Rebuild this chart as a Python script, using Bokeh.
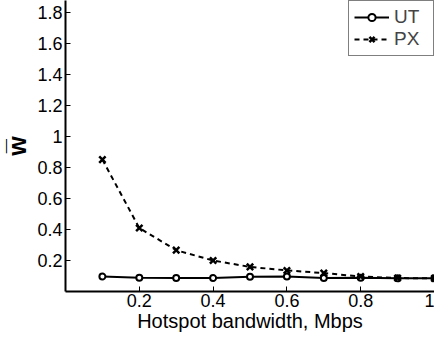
from bokeh.plotting import figure
from bokeh.models import Range1d, FixedTicker, NumeralTickFormatter, Legend, LegendItem
from bokeh.embed import file_html
from bokeh.resources import INLINE

bandwidth = [0.1, 0.2, 0.3, 0.4, 0.5, 0.6, 0.7, 0.8, 0.9, 1.0]
ut = [0.097, 0.089, 0.087, 0.087, 0.095, 0.097, 0.087, 0.089, 0.085, 0.085]
px = [0.852, 0.41, 0.267, 0.20, 0.159, 0.136, 0.119, 0.097, 0.087, 0.085]
x_ticks = [0.2, 0.4, 0.6, 0.8, 1.0]
y_ticks = [0.2, 0.4, 0.6, 0.8, 1.0, 1.2, 1.4, 1.6, 1.8]

FONT = "Liberation Sans"

p = figure(width=434, height=335, output_backend="svg", toolbar_location=None,
           x_range=Range1d(0, 1.0), y_range=Range1d(0, 1.88),
           min_border_left=65, min_border_right=0, min_border_top=0, min_border_bottom=44)
p.outline_line_color = None
p.grid.visible = False
p.background_fill_color = "white"
p.border_fill_color = "white"

l1 = p.line(bandwidth, ut, line_color="black", line_width=2)
s1 = p.scatter(bandwidth, ut, marker="circle", size=6, line_color="black", line_width=2, fill_color="white")
l2 = p.line(bandwidth, px, line_color="black", line_width=2, line_dash="5 4")
s2 = p.scatter(bandwidth, px, marker="x", size=9, line_color="black", line_width=2.5)

legend = Legend(items=[LegendItem(label="UT", renderers=[l1, s1]),
                       LegendItem(label="PX", renderers=[l2, s2])],
                location="top_right")
legend.margin = 0
legend.padding = 5
legend.spacing = 0
legend.border_line_color = "black"
legend.border_line_width = 1
legend.label_text_font = FONT
legend.label_text_font_size = "19px"
legend.label_height = 18
legend.glyph_height = 18
legend.glyph_width = 35
legend.label_width = 34
legend.label_standoff = 5
p.add_layout(legend)

for ax in (p.xaxis[0], p.yaxis[0]):
    ax.axis_line_color = "black"
    ax.axis_line_width = 2
    ax.major_tick_in = 5
    ax.major_tick_out = 0
    ax.minor_tick_line_color = None
    ax.major_tick_line_color = "black"
    ax.major_tick_line_width = 1
    ax.major_label_text_font = FONT
    ax.major_label_text_font_size = "18px"
    ax.major_label_text_color = "black"
    ax.axis_label_text_font = FONT
    ax.axis_label_text_color = "black"
    ax.formatter = NumeralTickFormatter(format="0.[0]")

p.xaxis.ticker = FixedTicker(ticks=x_ticks)
p.yaxis.ticker = FixedTicker(ticks=y_ticks)
p.xaxis.axis_label = "Hotspot bandwidth, Mbps"
p.xaxis.axis_label_text_font_size = "20px"
p.xaxis.axis_label_text_font_style = "normal"
p.xaxis.axis_label_standoff = 0
p.xaxis.major_label_standoff = 2
p.yaxis.axis_label = "w\u0305"
p.yaxis.axis_label_text_font_size = "25px"
p.yaxis.axis_label_text_font_style = "bold"
p.yaxis.axis_label_standoff = 3
p.yaxis.major_label_standoff = 3

open("out.html", "w").write(file_html(p, INLINE))
